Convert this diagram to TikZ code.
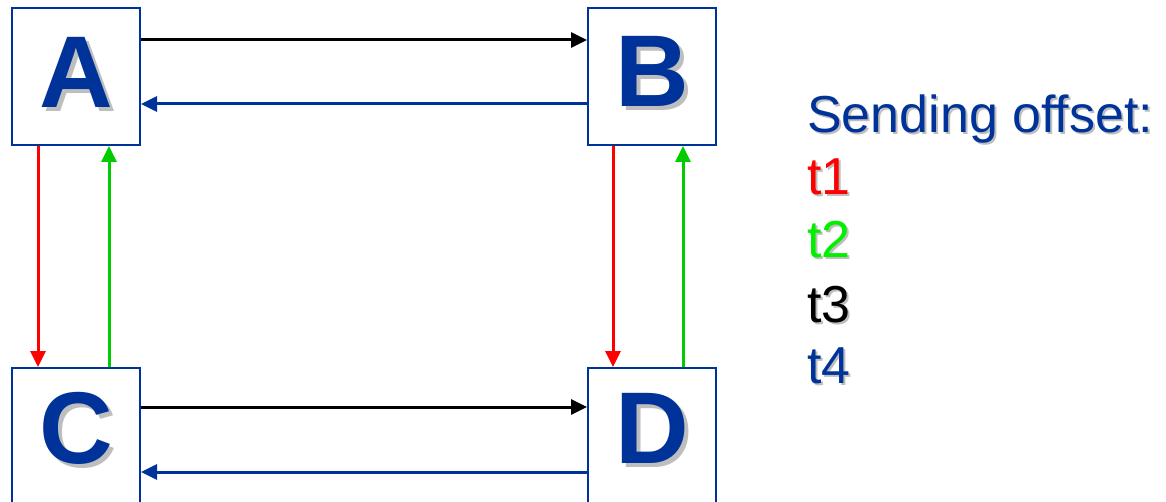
\documentclass[tikz,border=0pt]{standalone}
\usepackage{fontspec}
\setmainfont{Liberation Sans}
\usetikzlibrary{arrows.meta,calc}
\definecolor{nblue}{RGB}{0,51,153}
\definecolor{nred}{RGB}{255,0,0}
\definecolor{ngreen}{RGB}{0,204,0}
\definecolor{tgreen}{RGB}{0,240,0}
\definecolor{shade}{RGB}{190,190,190}
\tikzset{
  nodebox/.style={draw=nblue, line width=2pt, fill=white, inner sep=0pt, minimum width=128pt, minimum height=137pt},
  bigletter/.style={font=\fontsize{102}{102}\selectfont\bfseries, text=nblue, inner sep=0pt, anchor=base},
  bigshadow/.style={font=\fontsize{102}{102}\selectfont\bfseries, text=shade, inner sep=0pt, anchor=base},
  legend/.style={font=\fontsize{52}{52}\selectfont, inner sep=0pt, anchor=base west},
  legshadow/.style={font=\fontsize{52}{52}\selectfont, text=shade, inner sep=0pt, anchor=base west},
  link/.style={line width=3pt, -{Triangle[length=16pt,width=15pt]}},
}
\begin{document}
\begin{tikzpicture}[x=1pt,y=-1pt]
\useasboundingbox (0,0) rectangle (1166,502);
% boxes
\node[nodebox] (A) at (76,76.5) {};
\node[nodebox] (B) at (652,76.5) {};
\node[nodebox] (C) at (76,436.5) {};
\node[nodebox] (D) at (652,436.5) {};
% letters with shadows
\node[bigshadow] (As) at (80,112) {A};
\node[bigletter] (Al) at (76,108) {A};
\node[bigshadow] (Bs) at (656,111) {B};
\node[bigletter] (Bl) at (652,107) {B};
\node[bigshadow] (Cs) at (80,467) {C};
\node[bigletter] (Cl) at (76,463) {C};
\node[bigshadow] (Ds) at (656,467) {D};
\node[bigletter] (Dl) at (652,463) {D};
% horizontal links
\draw[link, black] ($(A.north east)+(0,33)$) -- ($(B.north west)+(0,33)$);
\draw[link, nblue] ($(B.north west)+(0,97)$) -- ($(A.north east)+(0,97)$);
\draw[link, black] ($(C.north east)+(0,40)$) -- ($(D.north west)+(0,40)$);
\draw[link, nblue] ($(D.north west)+(0,105)$) -- ($(C.north east)+(0,105)$);
% vertical links
\draw[link, nred] ($(A.south west)+(27,0)$) -- ($(C.north west)+(27,0)$);
\draw[link, ngreen] ($(C.north west)+(98,0)$) -- ($(A.south west)+(98,0)$);
\draw[link, nred] ($(B.south west)+(26,0)$) -- ($(D.north west)+(26,0)$);
\draw[link, ngreen] ($(D.north west)+(96,0)$) -- ($(B.south west)+(96,0)$);
% legend
\node[legshadow] (L0s) at (809,135) {Sending offset:};
\node[legend, text=nblue] (L0) at (807,133) {Sending offset:};
\node[legshadow] (L1s) at (809,197) {t1};
\node[legend, text=nred] (L1) at (807,195) {t1};
\node[legshadow] (L2s) at (809,260) {t2};
\node[legend, text=tgreen] (L2) at (807,258) {t2};
\node[legshadow] (L3s) at (809,324) {t3};
\node[legend, text=black] (L3) at (807,322) {t3};
\node[legshadow] (L4s) at (809,385) {t4};
\node[legend, text=nblue] (L4) at (807,383) {t4};
\end{tikzpicture}
\end{document}
